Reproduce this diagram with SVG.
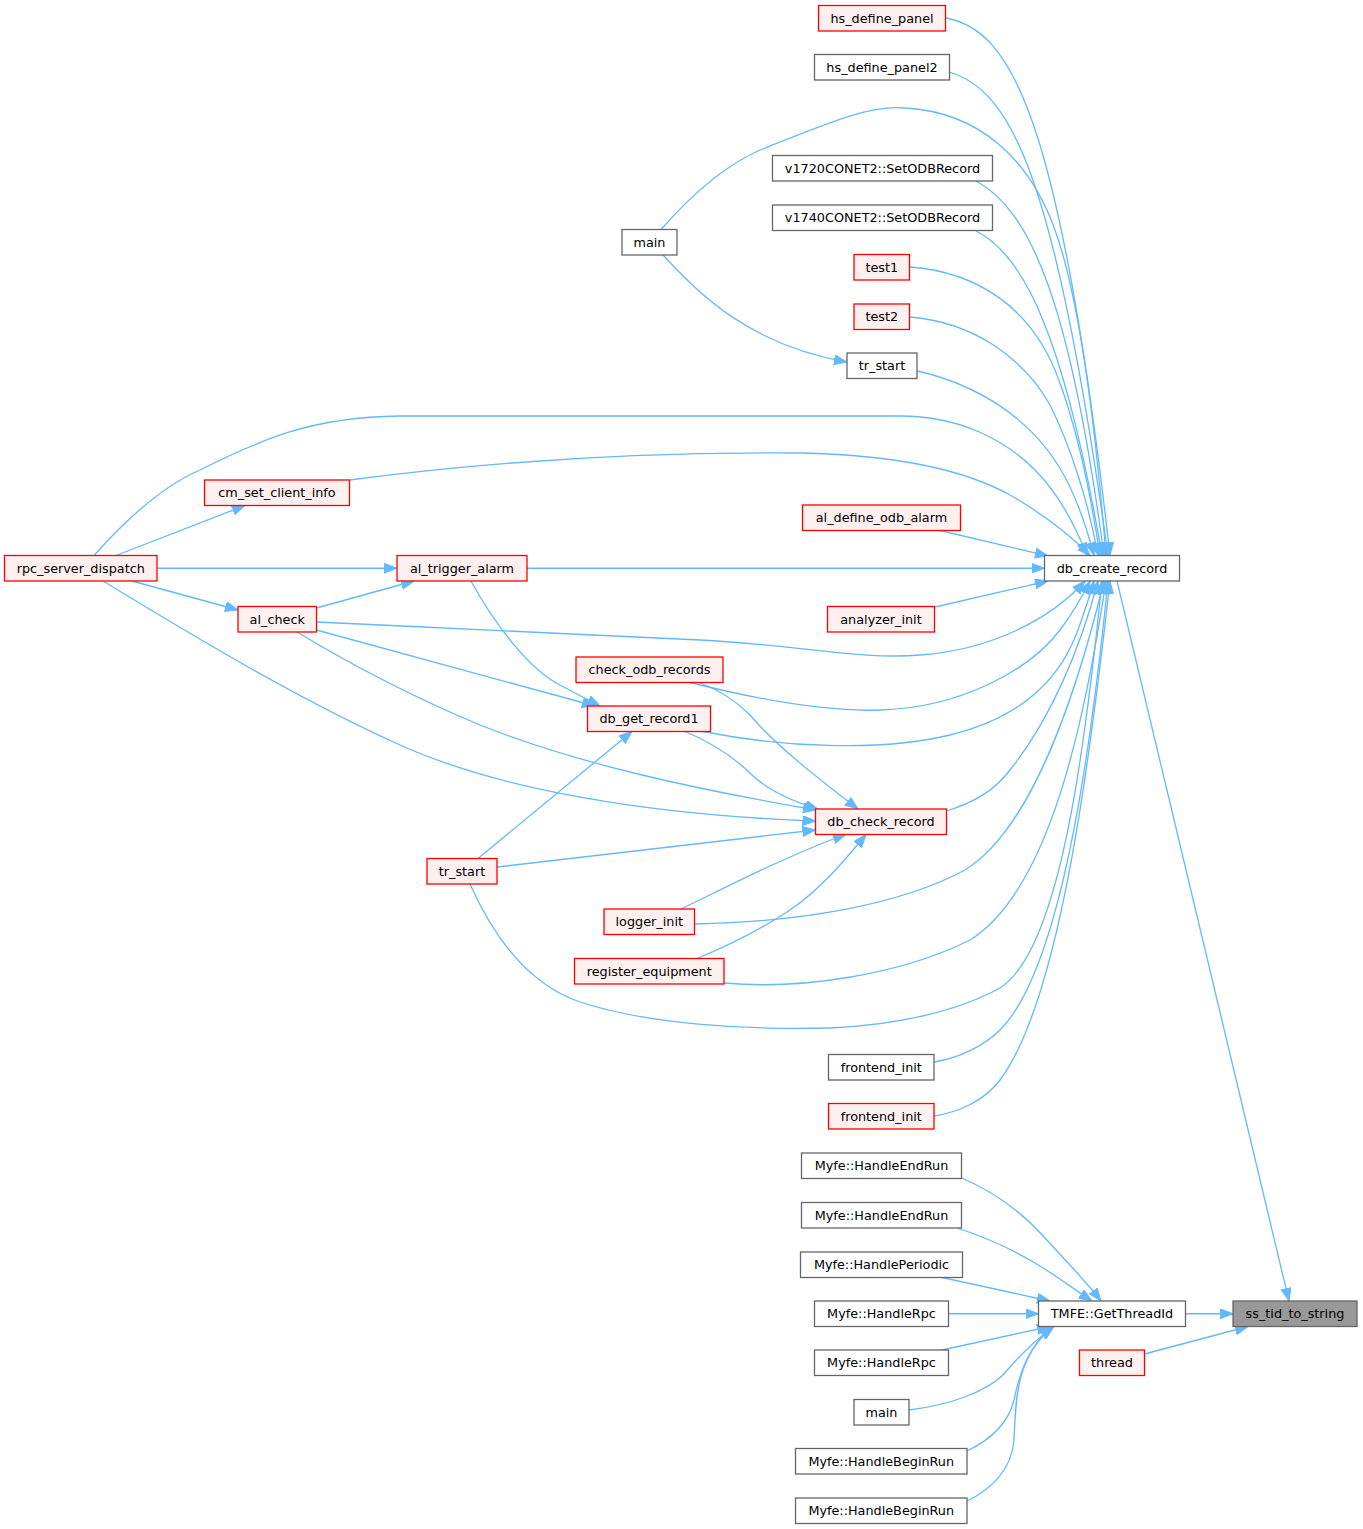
<svg xmlns="http://www.w3.org/2000/svg" width="1363" height="1529" viewBox="0 0 1363 1529">
<defs>
<style>
.e{fill:none;stroke:#63b8ff;stroke-width:1.3}
.nr{fill:#fff0f0;stroke:#ff0000;stroke-width:1.3}
.nw{fill:#ffffff;stroke:#666666;stroke-width:1.3}
.ng{fill:#999999;stroke:#666666;stroke-width:1.3}
text{font-family:"DejaVu Sans","Liberation Sans",sans-serif;font-size:12.8px;fill:#000;text-anchor:middle}
</style>
<marker id="ah" markerUnits="userSpaceOnUse" markerWidth="15" markerHeight="12" refX="13" refY="5" orient="auto">
<path d="M0,0 L13,5 L0,10 z" fill="#63b8ff" stroke="#63b8ff" stroke-width="1"/>
</marker>
</defs>
<rect width="1363" height="1529" fill="#ffffff"/>
<g id="connectors">
<path class="e" marker-end="url(#ah)" d="M946,18 C1010,30 1060,110 1110,555.5"/>
<path class="e" marker-end="url(#ah)" d="M949,72 C1010,90 1055,170 1108,555.5"/>
<path class="e" marker-end="url(#ah)" d="M661,229.5 C700,185 735,160 765,148 C830,122 870,105 905,108 C980,112 1030,160 1055,230 C1080,300 1095,420 1106,555.5"/>
<path class="e" marker-end="url(#ah)" d="M663,255 C700,295 750,345 847,362"/>
<path class="e" marker-end="url(#ah)" d="M976,181 C1030,210 1070,300 1104,555.5"/>
<path class="e" marker-end="url(#ah)" d="M976,231 C1025,255 1065,340 1102,555.5"/>
<path class="e" marker-end="url(#ah)" d="M909.5,267 C980,272 1030,310 1055,370 C1075,420 1090,490 1100,555.5"/>
<path class="e" marker-end="url(#ah)" d="M909.5,317 C975,322 1025,360 1050,405 C1070,445 1088,500 1098,555.5"/>
<path class="e" marker-end="url(#ah)" d="M917,371 C980,385 1030,420 1058,465 C1075,492 1086,525 1094,555.5"/>
<path class="e" marker-end="url(#ah)" d="M94,555.5 C130,515 165,485 200,470 C260,440 310,417 400,416 L900,416 C960,416 1005,440 1035,470 C1060,495 1075,525 1087,555.5"/>
<path class="e" marker-end="url(#ah)" d="M349.5,480 C500,460 650,452 800,453 C900,455 965,470 1010,495 C1045,515 1070,535 1090,555.5"/>
<path class="e" marker-end="url(#ah)" d="M116,555.5 L245,505.5"/>
<path class="e" marker-end="url(#ah)" d="M157,568.25 L397,568.25"/>
<path class="e" marker-end="url(#ah)" d="M132,581 L238,610"/>
<path class="e" marker-end="url(#ah)" d="M103,581 C200,640 300,700 400,745 C500,790 650,815 815.5,821"/>
<path class="e" marker-end="url(#ah)" d="M940,530.5 L1048,556"/>
<path class="e" marker-end="url(#ah)" d="M527,568.25 L1044.5,568.25"/>
<path class="e" marker-end="url(#ah)" d="M935,607 L1048,581"/>
<path class="e" marker-end="url(#ah)" d="M316.5,608 L414,581"/>
<path class="e" marker-end="url(#ah)" d="M316.5,622 C450,628 600,636 700,640 C800,645 860,660 920,655 C990,650 1050,620 1085,581"/>
<path class="e" marker-end="url(#ah)" d="M316.5,630 L595,706"/>
<path class="e" marker-end="url(#ah)" d="M297,632 C360,670 420,700 480,725 C580,765 700,790 816,810"/>
<path class="e" marker-end="url(#ah)" d="M471,581 C495,625 530,670 560,685 C575,693 588,700 600,706"/>
<path class="e" marker-end="url(#ah)" d="M690,682.5 C760,700 830,712 880,710 C960,708 1030,670 1060,630 C1075,610 1083,595 1090,581"/>
<path class="e" marker-end="url(#ah)" d="M700,683 C720,690 735,700 750,715 C775,745 820,780 858,809"/>
<path class="e" marker-end="url(#ah)" d="M703,731.5 C780,747 880,752 950,735 C1020,718 1060,680 1078,630 C1085,610 1090,595 1094,581"/>
<path class="e" marker-end="url(#ah)" d="M685,731.5 C710,742 735,758 752,775 C770,792 795,802 818,809"/>
<path class="e" marker-end="url(#ah)" d="M946.5,811 C975,802 995,790 1010,770 C1050,720 1080,650 1098,581"/>
<path class="e" marker-end="url(#ah)" d="M478,858.5 L632,731.5"/>
<path class="e" marker-end="url(#ah)" d="M497,867 L815.5,830"/>
<path class="e" marker-end="url(#ah)" d="M470,884 C495,940 530,985 580,1002 C650,1025 750,1030 830,1028 C900,1025 960,1010 1000,988 C1060,950 1085,750 1102,581"/>
<path class="e" marker-end="url(#ah)" d="M681,909 C710,895 740,880 770,866 C795,855 820,843 846,834.5"/>
<path class="e" marker-end="url(#ah)" d="M694.5,924 C800,922 900,905 965,870 C1030,830 1075,700 1104,581"/>
<path class="e" marker-end="url(#ah)" d="M697,958.5 C730,945 760,930 790,910 C820,890 845,860 866,834.5"/>
<path class="e" marker-end="url(#ah)" d="M724,983 C800,990 900,975 970,940 C1050,890 1085,720 1106,581"/>
<path class="e" marker-end="url(#ah)" d="M934,1062 C960,1058 985,1045 1000,1030 C1060,970 1090,760 1108,581"/>
<path class="e" marker-end="url(#ah)" d="M934,1116 C960,1112 985,1100 1000,1080 C1060,1000 1090,760 1110,581"/>
<path class="e" marker-end="url(#ah)" d="M1117,581 L1289,1301"/>
<path class="e" marker-end="url(#ah)" d="M1185.5,1313.75 L1233,1313.75"/>
<path class="e" marker-end="url(#ah)" d="M1144.5,1354 L1248,1326.5"/>
<path class="e" marker-end="url(#ah)" d="M961.5,1178 C990,1190 1020,1210 1045,1238 C1065,1260 1085,1280 1101,1301"/>
<path class="e" marker-end="url(#ah)" d="M957,1228 C985,1237 1010,1248 1035,1263 C1060,1278 1075,1290 1092,1301"/>
<path class="e" marker-end="url(#ah)" d="M942,1277.5 L1050,1301"/>
<path class="e" marker-end="url(#ah)" d="M948.5,1313.75 L1038.5,1313.75"/>
<path class="e" marker-end="url(#ah)" d="M942,1350 L1050,1326.5"/>
<path class="e" marker-end="url(#ah)" d="M909,1410 C950,1405 985,1392 1003,1375 C1020,1355 1035,1340 1054,1326.5"/>
<path class="e" marker-end="url(#ah)" d="M967,1451 C990,1440 1008,1425 1014,1400 C1020,1370 1030,1345 1053,1326.5"/>
<path class="e" marker-end="url(#ah)" d="M967,1501 C990,1490 1012,1470 1014,1440 C1016,1400 1015,1360 1052,1326.5"/>
</g>
<g id="n_hs_define_panel"><rect class="nr" x="818.5" y="5.5" width="127" height="25.5"/><text x="882" y="22.5">hs_define_panel</text></g>
<g id="n_hs_define_panel2"><rect class="nw" x="814.5" y="54.5" width="135" height="25.5"/><text x="882" y="71.5">hs_define_panel2</text></g>
<g id="n_v1720"><rect class="nw" x="772.5" y="155.5" width="220" height="25.5"/><text x="882.5" y="172.5">v1720CONET2::SetODBRecord</text></g>
<g id="n_v1740"><rect class="nw" x="772.5" y="205" width="220" height="25.5"/><text x="882.5" y="222">v1740CONET2::SetODBRecord</text></g>
<g id="n_main_top"><rect class="nw" x="622" y="229.5" width="55" height="25.5"/><text x="649.5" y="246.5">main</text></g>
<g id="n_test1"><rect class="nr" x="854" y="254.5" width="55.5" height="25.5"/><text x="881.75" y="271.5">test1</text></g>
<g id="n_test2"><rect class="nr" x="854" y="304" width="55.5" height="25.5"/><text x="881.75" y="321">test2</text></g>
<g id="n_tr_start_top"><rect class="nw" x="847" y="353" width="70" height="25.5"/><text x="882" y="370">tr_start</text></g>
<g id="n_cm_set_client_info"><rect class="nr" x="204.5" y="480" width="145" height="25.5"/><text x="277" y="497">cm_set_client_info</text></g>
<g id="n_al_define_odb_alarm"><rect class="nr" x="802.5" y="505" width="158" height="25.5"/><text x="881.5" y="522">al_define_odb_alarm</text></g>
<g id="n_rpc_server_dispatch"><rect class="nr" x="4.5" y="555.5" width="152.5" height="25.5"/><text x="80.75" y="572.5">rpc_server_dispatch</text></g>
<g id="n_al_trigger_alarm"><rect class="nr" x="397" y="555.5" width="130" height="25.5"/><text x="462" y="572.5">al_trigger_alarm</text></g>
<g id="n_db_create_record"><rect class="nw" x="1044.5" y="555.5" width="135" height="25.5"/><text x="1112" y="572.5">db_create_record</text></g>
<g id="n_al_check"><rect class="nr" x="238" y="606.5" width="78.5" height="25.5"/><text x="277.25" y="623.5">al_check</text></g>
<g id="n_analyzer_init"><rect class="nr" x="827.5" y="606.5" width="107" height="25.5"/><text x="881" y="623.5">analyzer_init</text></g>
<g id="n_check_odb_records"><rect class="nr" x="576" y="657" width="147" height="25.5"/><text x="649.5" y="674">check_odb_records</text></g>
<g id="n_db_get_record1"><rect class="nr" x="587.5" y="706" width="123" height="25.5"/><text x="649" y="723">db_get_record1</text></g>
<g id="n_db_check_record"><rect class="nr" x="815.5" y="809" width="131" height="25.5"/><text x="881" y="826">db_check_record</text></g>
<g id="n_tr_start_red"><rect class="nr" x="427" y="858.5" width="70" height="25.5"/><text x="462" y="875.5">tr_start</text></g>
<g id="n_logger_init"><rect class="nr" x="604" y="909" width="90.5" height="25.5"/><text x="649.25" y="926">logger_init</text></g>
<g id="n_register_equipment"><rect class="nr" x="574.5" y="958.5" width="149.5" height="25.5"/><text x="649.25" y="975.5">register_equipment</text></g>
<g id="n_frontend_init_w"><rect class="nw" x="828.5" y="1054.5" width="105.5" height="25.5"/><text x="881.25" y="1071.5">frontend_init</text></g>
<g id="n_frontend_init_r"><rect class="nr" x="828.5" y="1103.5" width="105.5" height="25.5"/><text x="881.25" y="1120.5">frontend_init</text></g>
<g id="n_HandleEndRun1"><rect class="nw" x="801.5" y="1153" width="160" height="25.5"/><text x="881.5" y="1170">Myfe::HandleEndRun</text></g>
<g id="n_HandleEndRun2"><rect class="nw" x="801.5" y="1202.5" width="160" height="25.5"/><text x="881.5" y="1219.5">Myfe::HandleEndRun</text></g>
<g id="n_HandlePeriodic"><rect class="nw" x="800.5" y="1252" width="162" height="25.5"/><text x="881.5" y="1269">Myfe::HandlePeriodic</text></g>
<g id="n_HandleRpc1"><rect class="nw" x="814.5" y="1301" width="134" height="25.5"/><text x="881.5" y="1318">Myfe::HandleRpc</text></g>
<g id="n_HandleRpc2"><rect class="nw" x="814.5" y="1350" width="134" height="25.5"/><text x="881.5" y="1367">Myfe::HandleRpc</text></g>
<g id="n_main_bottom"><rect class="nw" x="854" y="1399.5" width="55" height="25.5"/><text x="881.5" y="1416.5">main</text></g>
<g id="n_HandleBeginRun1"><rect class="nw" x="795.5" y="1448.5" width="171.5" height="25.5"/><text x="881.25" y="1465.5">Myfe::HandleBeginRun</text></g>
<g id="n_HandleBeginRun2"><rect class="nw" x="795.5" y="1498" width="171.5" height="25.5"/><text x="881.25" y="1515">Myfe::HandleBeginRun</text></g>
<g id="n_TMFE_GetThreadId"><rect class="nw" x="1038.5" y="1301" width="147" height="25.5"/><text x="1112" y="1318">TMFE::GetThreadId</text></g>
<g id="n_thread"><rect class="nr" x="1079.5" y="1350" width="65" height="25.5"/><text x="1112" y="1367">thread</text></g>
<g id="n_ss_tid_to_string"><rect class="ng" x="1233" y="1301" width="124" height="25.5"/><text x="1295" y="1318">ss_tid_to_string</text></g>
</svg>
